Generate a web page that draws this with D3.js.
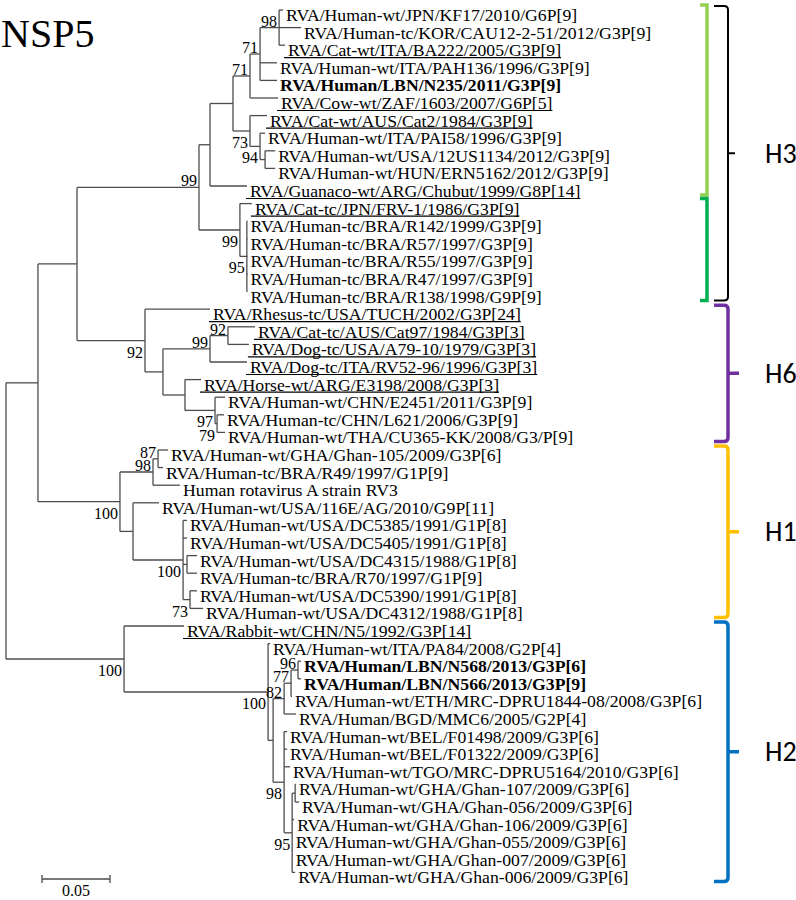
<!DOCTYPE html>
<html>
<head>
<meta charset="utf-8">
<script src="https://cdn.jsdelivr.net/npm/d3@7"></script>
<style>
  body { margin: 0; background: #fff; }
  svg { display: block; }
</style>
</head>
<body>
<div id="chart"></div>
<script>
const TITLE = "NSP5";

// internal nodes: [id, parent, branch length (subst./site), bootstrap]
const NODES = [
  ["root", null, 0, null],
  ["A", "root", 0.0235, null],
  ["B", "A", 0.0287, null],
  ["C", "B", 0.0897, 99],
  ["D", "C", 0.0081, null],
  ["F", "D", 0.0169, null],
  ["F1", "F", 0.0125, 71],
  ["F2", "F1", 0.0074, 71],
  ["F3", "F2", 0.0140, 98],
  ["G", "F", 0.0125, 73],
  ["H", "G", 0.0074, 94],
  ["I", "H", 0.0037, null],
  ["E", "C", 0.0301, 99],
  ["E2", "E", 0.0051, 95],
  ["H6", "B", 0.0500, 92],
  ["H6b", "H6", 0.0132, null],
  ["D6", "H6b", 0.0346, 99],
  ["N92", "D6", 0.0132, 92],
  ["HG", "H6b", 0.0162, null],
  ["CH", "HG", 0.0221, 97],
  ["CH2", "CH", 0.0015, 79],
  ["H1", "A", 0.0603, 100],
  ["J", "H1", 0.0243, 98],
  ["K", "J", 0.0037, 87],
  ["L", "H1", 0.0096, null],
  ["M", "L", 0.0368, 100],
  ["N", "M", 0.0029, null],
  ["O", "M", 0.0051, 73],
  ["P", "root", 0.0868, 100],
  ["Q", "P", 0.1059, 100],
  ["U", "Q", 0.0037, null],
  ["V", "U", 0.0081, 82],
  ["S77", "V", 0.0051, 77],
  ["S96", "S77", 0.0051, 96],
  ["W", "U", 0.0081, 98],
  ["X", "W", 0.0059, 95],
  ["Y", "X", 0.0022, null]
];

// taxa, top to bottom: [label, parent, branch length]
const TAXA = [
  ["RVA/Human-wt/JPN/KF17/2010/G6P[9]", "F3", 0.0029],
  ["RVA/Human-tc/KOR/CAU12-2-51/2012/G3P[9]", "F3", 0.0162],
  ["RVA/Cat-wt/ITA/BA222/2005/G3P[9]", "F3", 0.0044],
  ["RVA/Human-wt/ITA/PAH136/1996/G3P[9]", "F2", 0.0125],
  ["RVA/Human/LBN/N235/2011/G3P[9]", "F2", 0.0125],
  ["RVA/Cow-wt/ZAF/1603/2007/G6P[5]", "F1", 0.0206],
  ["RVA/Cat-wt/AUS/Cat2/1984/G3P[9]", "G", 0.0125],
  ["RVA/Human-wt/ITA/PAI58/1996/G3P[9]", "H", 0.0037],
  ["RVA/Human-wt/USA/12US1134/2012/G3P[9]", "I", 0.0074],
  ["RVA/Human-wt/HUN/ERN5162/2012/G3P[9]", "I", 0.0074],
  ["RVA/Guanaco-wt/ARG/Chubut/1999/G8P[14]", "D", 0.0272],
  ["RVA/Cat-tc/JPN/FRV-1/1986/G3P[9]", "E", 0.0088],
  ["RVA/Human-tc/BRA/R142/1999/G3P[9]", "E2", 0.0005],
  ["RVA/Human-tc/BRA/R57/1997/G3P[9]", "E2", 0.0005],
  ["RVA/Human-tc/BRA/R55/1997/G3P[9]", "E2", 0.0005],
  ["RVA/Human-tc/BRA/R47/1997/G3P[9]", "E2", 0.0005],
  ["RVA/Human-tc/BRA/R138/1998/G9P[9]", "E2", 0.0005],
  ["RVA/Rhesus-tc/USA/TUCH/2002/G3P[24]", "H6", 0.0478],
  ["RVA/Cat-tc/AUS/Cat97/1984/G3P[3]", "N92", 0.0199],
  ["RVA/Dog-tc/USA/A79-10/1979/G3P[3]", "N92", 0.0154],
  ["RVA/Dog-tc/ITA/RV52-96/1996/G3P[3]", "D6", 0.0272],
  ["RVA/Horse-wt/ARG/E3198/2008/G3P[3]", "HG", 0.0118],
  ["RVA/Human-wt/CHN/E2451/2011/G3P[9]", "CH", 0.0074],
  ["RVA/Human-tc/CHN/L621/2006/G3P[9]", "CH2", 0.0051],
  ["RVA/Human-wt/THA/CU365-KK/2008/G3/P[9]", "CH2", 0.0059],
  ["RVA/Human-wt/GHA/Ghan-105/2009/G3P[6]", "K", 0.0074],
  ["RVA/Human-tc/BRA/R49/1997/G1P[9]", "K", 0.0037],
  ["Human rotavirus A strain RV3", "J", 0.0199],
  ["RVA/Human-wt/USA/116E/AG/2010/G9P[11]", "L", 0.0191],
  ["RVA/Human-wt/USA/DC5385/1991/G1P[8]", "M", 0.0029],
  ["RVA/Human-wt/USA/DC5405/1991/G1P[8]", "M", 0.0029],
  ["RVA/Human-wt/USA/DC4315/1988/G1P[8]", "N", 0.0074],
  ["RVA/Human-tc/BRA/R70/1997/G1P[9]", "N", 0.0074],
  ["RVA/Human-wt/USA/DC5390/1991/G1P[8]", "O", 0.0051],
  ["RVA/Human-wt/USA/DC4312/1988/G1P[8]", "O", 0.0096],
  ["RVA/Rabbit-wt/CHN/N5/1992/G3P[14]", "P", 0.0441],
  ["RVA/Human-wt/ITA/PA84/2008/G2P[4]", "Q", 0.0015],
  ["RVA/Human/LBN/N568/2013/G3P[6]", "S96", 0.0022],
  ["RVA/Human/LBN/N566/2013/G3P[9]", "S96", 0.0022],
  ["RVA/Human-wt/ETH/MRC-DPRU1844-08/2008/G3P[6]", "S77", 0.0007],
  ["RVA/Human/BGD/MMC6/2005/G2P[4]", "V", 0.0088],
  ["RVA/Human-wt/BEL/F01498/2009/G3P[6]", "W", 0.0022],
  ["RVA/Human-wt/BEL/F01322/2009/G3P[6]", "W", 0.0022],
  ["RVA/Human-wt/TGO/MRC-DPRU5164/2010/G3P[6]", "W", 0.0044],
  ["RVA/Human-wt/GHA/Ghan-107/2009/G3P[6]", "Y", 0.0007],
  ["RVA/Human-wt/GHA/Ghan-056/2009/G3P[6]", "Y", 0.0029],
  ["RVA/Human-wt/GHA/Ghan-106/2009/G3P[6]", "X", 0.0015],
  ["RVA/Human-wt/GHA/Ghan-055/2009/G3P[6]", "X", 0.0004],
  ["RVA/Human-wt/GHA/Ghan-007/2009/G3P[6]", "X", 0.0004],
  ["RVA/Human-wt/GHA/Ghan-006/2009/G3P[6]", "X", 0.0022]
];

const UNDERLINED = [
  "RVA/Cat-wt/ITA/BA222/2005/G3P[9]",
  "RVA/Cow-wt/ZAF/1603/2007/G6P[5]",
  "RVA/Cat-wt/AUS/Cat2/1984/G3P[9]",
  "RVA/Guanaco-wt/ARG/Chubut/1999/G8P[14]",
  "RVA/Cat-tc/JPN/FRV-1/1986/G3P[9]",
  "RVA/Rhesus-tc/USA/TUCH/2002/G3P[24]",
  "RVA/Cat-tc/AUS/Cat97/1984/G3P[3]",
  "RVA/Dog-tc/USA/A79-10/1979/G3P[3]",
  "RVA/Dog-tc/ITA/RV52-96/1996/G3P[3]",
  "RVA/Horse-wt/ARG/E3198/2008/G3P[3]",
  "RVA/Rabbit-wt/CHN/N5/1992/G3P[14]"
];

const BOLD = [
  "RVA/Human/LBN/N235/2011/G3P[9]",
  "RVA/Human/LBN/N568/2013/G3P[6]",
  "RVA/Human/LBN/N566/2013/G3P[9]"
];

// clade braces: [label, first taxon, last taxon]
const GROUPS = [["H3", 0, 16], ["H6", 17, 24], ["H1", 25, 34], ["H2", 35, 49]];
// square sub-brackets inside H3: [first taxon, last taxon]
const SUBGROUPS = [[0, 10], [11, 16]];
const SCALE_BAR = 0.05;

const GROUP_COLORS = { H3: "#000000", H6: "#7030a0", H1: "#ffc000", H2: "#0070c0" };
const SUB_COLORS = ["#92d050", "#00b050"];

const W = 796, H = 900;
const SERIF = "'Liberation Serif', 'Times New Roman', serif";
const FS = 17.7;
const LINE = "#4d4d4d";

const svg = d3.select("#chart").append("svg")
  .attr("width", W).attr("height", H)
  .style("font-family", SERIF);

// scales: branch length -> px (0.05 = 68 px), taxon index -> row
const x = d3.scaleLinear().domain([0, SCALE_BAR]).range([6, 74]);
const y = d3.scaleLinear().domain([0, TAXA.length - 1]).range([10, 872.4]);

const rows = NODES.map(([id, parent, len, bs]) => ({ id, parent, len, bs }))
  .concat(TAXA.map(([name, parent, len], i) => ({ id: "t" + i, parent, len, name, index: i })));

const root = d3.stratify().id(d => d.id).parentId(d => d.parent)(rows);
root.eachAfter(n => { n.ord = n.children ? d3.min(n.children, c => c.ord) : n.data.index; });
root.sort((a, b) => a.ord - b.ord);
root.eachBefore(n => { n.dist = n.parent ? n.parent.dist + n.data.len : 0; });
root.eachAfter(n => {
  n.py = n.children
    ? (n.children[0].py + n.children[n.children.length - 1].py) / 2
    : y(n.data.index);
});

const nodes = root.descendants();

// branches
const g = svg.append("g").attr("fill", "none").attr("stroke", LINE).attr("stroke-width", 1.3);
g.selectAll("path.h")
  .data(nodes.filter(n => n.parent))
  .join("path").attr("class", "h")
  .attr("d", n => `M${x(n.parent.dist)},${n.py}H${x(n.dist)}`);
g.selectAll("path.v")
  .data(nodes.filter(n => n.children))
  .join("path").attr("class", "v")
  .attr("d", n => `M${x(n.dist)},${n.children[0].py}V${n.children[n.children.length - 1].py}`);

// bootstrap values: above the branch for a first child, below it otherwise
svg.append("g").selectAll("text")
  .data(nodes.filter(n => n.data.bs != null))
  .join("text")
  .attr("x", n => x(n.dist) - 2)
  .attr("y", n => n.parent.children[0] === n ? n.py - 1 : n.py + 17)
  .attr("text-anchor", "end")
  .style("font-size", "16px")
  .text(n => n.data.bs);

// taxon labels
const leaves = svg.append("g").selectAll("g")
  .data(root.leaves())
  .join("g")
  .attr("transform", n => `translate(${x(n.dist) + 3},${n.py + 11})`);
leaves.append("text")
  .style("font-size", FS + "px")
  .style("font-weight", n => BOLD.includes(n.data.name) ? "bold" : null)
  .text(n => n.data.name);
leaves.filter(n => UNDERLINED.includes(n.data.name))
  .each(function () {
    const w = d3.select(this).select("text").node().getComputedTextLength();
    d3.select(this).append("line")
      .attr("x1", -4).attr("x2", w).attr("y1", 1.5).attr("y2", 1.5)
      .attr("stroke", "#000").attr("stroke-width", 1.2);
  });

// title
svg.append("text").attr("x", 1).attr("y", 47)
  .style("font-size", "40px").text(TITLE);

// scale bar
const sb = svg.append("g").attr("stroke", LINE).attr("stroke-width", 1.3);
const sbY = 879, sbX = 42, sbW = x(SCALE_BAR) - x(0);
sb.append("path").attr("d", `M${sbX},${sbY}H${sbX + sbW}`);
sb.append("path").attr("d", `M${sbX},${sbY - 4}V${sbY + 4}M${sbX + sbW},${sbY - 4}V${sbY + 4}`);
svg.append("text").attr("x", sbX + sbW / 2).attr("y", 896)
  .attr("text-anchor", "middle").style("font-size", "16px").text(SCALE_BAR);

// sub brackets
SUBGROUPS.forEach(([a, b], i) => {
  const t = y(a) - 5, bt = y(b) + 9;
  svg.append("path")
    .attr("d", `M700,${t}H707V${bt}H700`)
    .attr("fill", "none").attr("stroke", SUB_COLORS[i]).attr("stroke-width", 3.5);
});

// clade braces
function brace(top, bot, x0, xv, xt) {
  const mid = (top + bot) / 2, r = 4;
  return `M${x0},${top}H${xv - r}Q${xv},${top} ${xv},${top + r}V${bot - r}` +
    `Q${xv},${bot} ${xv - r},${bot}H${x0}M${xv},${mid}H${xt}`;
}
GROUPS.forEach(([name, a, b]) => {
  const t = y(a) - 4, bt = y(b) + 9;
  const col = GROUP_COLORS[name];
  svg.append("path")
    .attr("d", brace(t, bt, 714, 728, name === "H3" ? 735 : 739))
    .attr("fill", "none").attr("stroke", col)
    .attr("stroke-width", name === "H3" ? 2 : 3.5);
  svg.append("text")
    .attr("x", 765).attr("y", (t + bt) / 2)
    .attr("dominant-baseline", "central")
    .style("font-family", "Carlito, Calibri, Lato, sans-serif")
    .style("font-size", "28px")
    .text(name);
});
</script>
</body>
</html>
